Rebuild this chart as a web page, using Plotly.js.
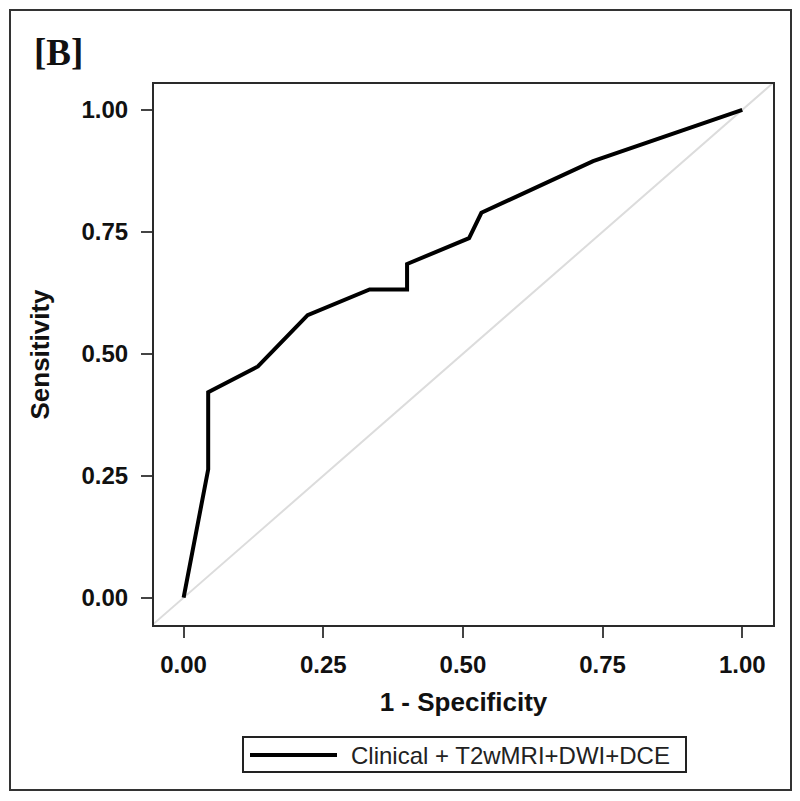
<!DOCTYPE html>
<html>
<head>
<meta charset="utf-8">
<script src="https://cdn.plot.ly/plotly-3.0.1.min.js"></script>
<style>
  body { margin: 0; background: #fff; }
  #frame { position: absolute; left: 9px; top: 9px; width: 779px; height: 778px; border: 2px solid #333; }
  #chart { position: absolute; left: 0; top: 0; width: 800px; height: 801px; }
</style>
</head>
<body>
<div id="frame"></div>
<div id="chart"></div>
<script>
// ROC curve
const fpr = [0, 0.044, 0.044, 0.133, 0.222, 0.333, 0.400, 0.400, 0.511, 0.533, 0.733, 1];
const tpr = [0, 0.263, 0.421, 0.474, 0.579, 0.632, 0.632, 0.684, 0.737, 0.789, 0.895, 1];
const seriesName = "Clinical + T2wMRI+DWI+DCE";
const panelLabel = "[B]";

// chance line
const refX = [-0.06, 1.06];
const refY = [-0.06, 1.06];

const tickVals = [0, 0.25, 0.5, 0.75, 1];
const tickText = ["0.00", "0.25", "0.50", "0.75", "1.00"];

// plot area in pixels
const L = 154, R = 773, T = 84, B = 625, W = 800, H = 801;
const px = x => (x - L) / (R - L);
const py = y => (B - y) / (B - T);

const traces = [
  {
    x: refX, y: refY, mode: "lines", showlegend: false, hoverinfo: "skip",
    line: { color: "#dcdcdc", width: 2 }
  },
  {
    x: fpr, y: tpr, mode: "lines", name: seriesName, showlegend: false,
    line: { color: "#000", width: 4 }
  }
];

const axisCommon = {
  tickvals: tickVals,
  ticktext: tickText,
  showgrid: false,
  zeroline: false,
  showline: true,
  mirror: true,
  linecolor: "#2a2a2a",
  linewidth: 2,
  ticks: "outside",
  ticklen: 11,
  tickwidth: 2,
  tickcolor: "#444",
  tickfont: { family: "Liberation Sans, Arial", size: 24, color: "#111", weight: "bold" }
};

const layout = {
  width: W,
  height: H,
  margin: { l: L, r: W - R, t: T, b: H - B },
  paper_bgcolor: "rgba(0,0,0,0)",
  plot_bgcolor: "#fff",
  showlegend: false,
  xaxis: Object.assign({}, axisCommon, {
    range: [-0.053, 1.055],
    ticklabelstandoff: 6,
    title: { text: "1 - Specificity", standoff: 16,
      font: { family: "Liberation Sans, Arial", size: 26, color: "#111", weight: "bold" } }
  }),
  yaxis: Object.assign({}, axisCommon, {
    range: [-0.056, 1.053],
    ticklabelstandoff: 8,
    title: { text: "Sensitivity", standoff: 24,
      font: { family: "Liberation Sans, Arial", size: 26, color: "#111", weight: "bold" } }
  }),
  shapes: [
    // legend box
    { type: "rect", xref: "paper", yref: "paper",
      x0: px(243), x1: px(686), y0: py(772), y1: py(737),
      line: { color: "#222", width: 2 }, fillcolor: "#fff" },
    { type: "line", xref: "paper", yref: "paper",
      x0: px(250), x1: px(337), y0: py(755), y1: py(755),
      line: { color: "#000", width: 4 } }
  ],
  annotations: [
    { text: seriesName, xref: "paper", yref: "paper", x: px(349), y: py(755),
      xanchor: "left", yanchor: "middle", showarrow: false,
      font: { family: "Liberation Sans, Arial", size: 24, color: "#222" } },
    { text: panelLabel, xref: "paper", yref: "paper", x: px(32), y: py(53),
      xanchor: "left", yanchor: "middle", showarrow: false,
      font: { family: "Liberation Serif, Times New Roman", size: 37, color: "#111", weight: "bold" } }
  ]
};

Plotly.newPlot("chart", traces, layout, { staticPlot: true });
</script>
</body>
</html>
